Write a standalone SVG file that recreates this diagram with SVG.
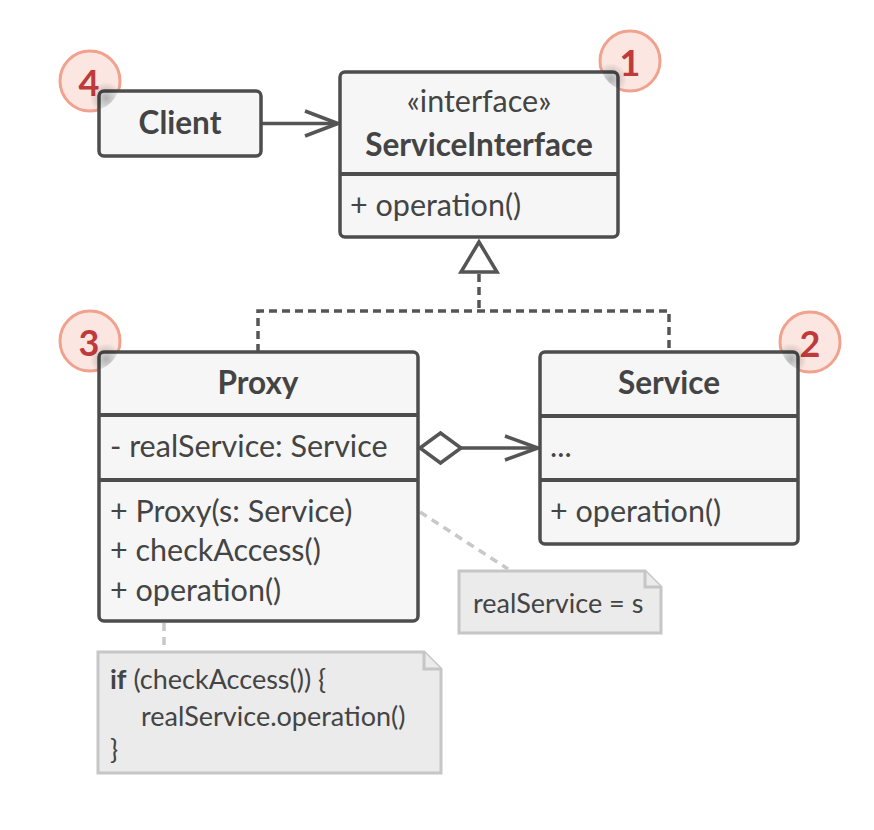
<svg xmlns="http://www.w3.org/2000/svg" width="874" height="830" viewBox="0 0 874 830">
<defs>
<style>
.box{fill:#f6f6f6;stroke:#4d4d4d;stroke-width:3.5}
.div{stroke:#4d4d4d;stroke-width:4}
.t{font-family:Lato,"Open Sans","Liberation Sans",sans-serif;font-size:30.5px;fill:#444}
.b{font-weight:bold;font-size:31.5px}
.badge{fill:#fbe6e1;stroke:#f0a28e;stroke-width:3}
.num{font-family:Lato,"Liberation Sans",sans-serif;font-size:36px;font-weight:bold;fill:#c0393b;text-anchor:middle}
.conn{fill:none;stroke:#555;stroke-width:3.5}
.dash{fill:none;stroke:#555;stroke-width:3.5;stroke-dasharray:8 5}
.ndash{fill:none;stroke:#c8c8c8;stroke-width:3.5;stroke-dasharray:8 6}
.note{fill:#ebebeb;stroke:#c6c6c6;stroke-width:3}
.nt{font-family:Lato,"Open Sans","Liberation Sans",sans-serif;font-size:27px;fill:#444}
.shade{fill:url(#sg)}
</style>
<radialGradient id="sg">
<stop offset="0" stop-color="#000" stop-opacity="0.28"/>
<stop offset="1" stop-color="#000" stop-opacity="0"/>
</radialGradient>
<clipPath id="c4"><circle cx="90" cy="81" r="30"/></clipPath>
<clipPath id="c1"><circle cx="630" cy="61" r="30"/></clipPath>
<clipPath id="c3"><circle cx="90" cy="341" r="30"/></clipPath>
<clipPath id="c2"><circle cx="810" cy="342" r="30"/></clipPath>
</defs>

<g id="badge4">
<circle class="badge" cx="90" cy="81" r="30"/>
<text class="num" x="89" y="96">4</text>
</g>
<g id="badge1">
<circle class="badge" cx="630" cy="61" r="30"/>
<text class="num" x="630" y="76">1</text>
</g>
<g id="badge3">
<circle class="badge" cx="90" cy="341" r="30"/>
<text class="num" x="89" y="356">3</text>
</g>
<g id="badge2">
<circle class="badge" cx="810" cy="342" r="30"/>
<text class="num" x="810" y="357">2</text>
</g>

<g id="connectors">
<path class="conn" d="M261 123.5H337"/>
<path class="conn" d="M305 111L338 123.5L305 136"/>
<path class="dash" d="M479 274V311M258 352V311H669V352"/>
<path class="conn" d="M479 242L461 272H497Z" style="fill:#fff"/>
<path class="conn" d="M461 448H537"/>
<path class="conn" d="M505 436L538 448L505 460"/>
<path class="conn" d="M420 448L440.5 433L461 448L440.5 463Z" style="fill:#fff"/>
<path class="ndash" d="M420 512L508 569"/>
<path class="ndash" d="M164 623V652"/>
</g>

<g id="client">
<rect class="box" x="99" y="91" width="162" height="65" rx="5"/>
<text class="t b" x="180" y="134" text-anchor="middle">Client</text>
</g>

<g id="serviceInterface">
<rect class="box" x="340" y="72" width="278" height="165" rx="5"/>
<line class="div" x1="340" y1="174" x2="618" y2="174"/>
<text class="t" x="479" y="112" text-anchor="middle">«interface»</text>
<text class="t b" x="479" y="156" text-anchor="middle">ServiceInterface</text>
<text class="t" x="350" y="216">+ operation()</text>
</g>

<g id="proxy">
<rect class="box" x="99" y="352" width="319" height="269" rx="5"/>
<line class="div" x1="99" y1="415" x2="418" y2="415"/>
<line class="div" x1="99" y1="480" x2="418" y2="480"/>
<text class="t b" x="258" y="394" text-anchor="middle">Proxy</text>
<text class="t" x="110" y="457">- realService: Service</text>
<text class="t" x="110" y="522">+ Proxy(s: Service)</text>
<text class="t" x="110" y="561">+ checkAccess()</text>
<text class="t" x="110" y="601">+ operation()</text>
</g>

<g id="service">
<rect class="box" x="540" y="352" width="258" height="192" rx="5"/>
<line class="div" x1="540" y1="416" x2="798" y2="416"/>
<line class="div" x1="540" y1="480" x2="798" y2="480"/>
<text class="t b" x="669" y="394" text-anchor="middle">Service</text>
<text class="t" x="550" y="457">...</text>
<text class="t" x="550" y="522">+ operation()</text>
</g>

<g id="badge-shading">
<circle class="shade" cx="106" cy="98" r="16" clip-path="url(#c4)"/>
<circle class="shade" cx="611" cy="79" r="16" clip-path="url(#c1)"/>
<circle class="shade" cx="106" cy="359" r="16" clip-path="url(#c3)"/>
<circle class="shade" cx="791" cy="359" r="16" clip-path="url(#c2)"/>
</g>

<g id="note1">
<path class="note" d="M459 571H645L661 587V633H459Z"/>
<path class="note" d="M645 571V587H661"/>
<text class="nt" x="473" y="613">realService = s</text>
</g>

<g id="note2">
<path class="note" d="M98 652H424L441 669V773H98Z"/>
<path class="note" d="M424 652V669H441"/>
<text class="nt" x="110" y="689"><tspan font-weight="bold">if</tspan> (checkAccess()) {</text>
<text class="nt" x="141" y="726">realService.operation()</text>
<text class="nt" x="110" y="759">}</text>
</g>
</svg>
